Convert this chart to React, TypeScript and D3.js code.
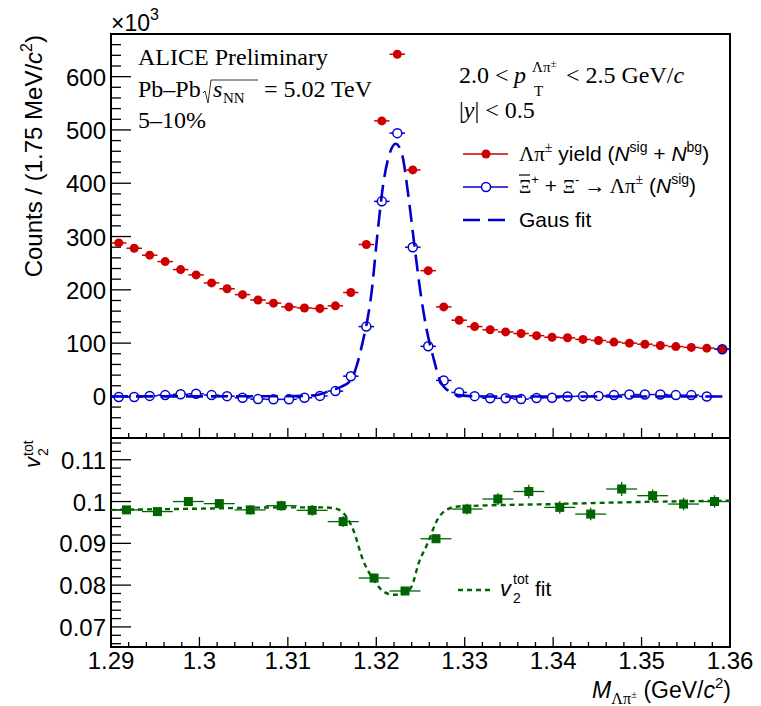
import React from "react";
import * as d3 from "d3";

// ---- data ----
// invariant mass bin centres, 1.75 MeV/c^2 bins
const massCenters = [
  1.290875, 1.292625, 1.294375, 1.296125, 1.297875, 1.299625, 1.301375, 1.303125,
  1.304875, 1.306625, 1.308375, 1.310125, 1.311875, 1.313625, 1.315375, 1.317125,
  1.318875, 1.320625, 1.322375, 1.324125, 1.325875, 1.327625, 1.329375, 1.331125,
  1.332875, 1.334625, 1.336375, 1.338125, 1.339875, 1.341625, 1.343375, 1.345125,
  1.346875, 1.348625, 1.350375, 1.352125, 1.353875, 1.355625, 1.357375, 1.359125,
];
const massHalfBin = 0.000875;

// Λπ± yield (Nsig + Nbg), in units of 10^3
const yieldCounts = [
  288, 278, 265, 253, 238, 228, 213, 202, 191, 181, 175, 168, 166, 165, 170, 195,
  285, 517, 642, 425, 236, 168, 143, 131, 125, 121, 118, 114, 111, 110, 107, 105,
  102, 100, 98, 95.5, 93.5, 92, 90.5, 88.5,
];

// Ξ -> Λπ± signal (Nsig), in units of 10^3
const signalCounts = [
  -1, -1, 1, 2.5, 4, 5, 2.5, 0.5, -2.5, -5, -5.5, -5.5, -2.5, 1, 10, 38,
  131, 366, 494, 280, 94, 30, 7.5, 0.5, -3.5, -3.5, -5, -3, -2.5, 0, 0.5, 1,
  2.5, 3.5, 3.5, 3.5, 2.5, 2.5, 0, 88.5,
];
const signalErr = [
  3, 3, 3, 3, 3, 3, 3, 3, 3, 3, 3, 3, 3, 3, 4, 5,
  8, 9, 9, 8, 6, 5, 4, 3, 3, 3, 3, 3, 3, 3, 3, 3,
  3, 3, 3, 3, 3, 3, 3, 0,
];

// Gaus fit curve, sampled off the figure
const gausFitX = [
  1.29, 1.31, 1.313, 1.3147, 1.316, 1.3171, 1.318, 1.3185, 1.3189, 1.3195, 1.3201,
  1.3208, 1.3215, 1.3222, 1.3229, 1.3236, 1.3243, 1.325, 1.3257, 1.3265, 1.3272,
  1.3283, 1.3295, 1.332, 1.36,
];
const gausFitY = [
  0, 0.5, 2, 10, 18, 30, 70, 105, 135, 200, 300,
  400, 455, 474, 455, 380, 285, 195, 125, 70, 30,
  9, 2, 0, 0,
];

// v2tot in 3.5 MeV/c^2 bins
const v2Centers = [
  1.29175, 1.29525, 1.29875, 1.30225, 1.30575, 1.30925, 1.31275, 1.31625, 1.31975, 1.32325,
  1.32675, 1.33025, 1.33375, 1.33725, 1.34075, 1.34425, 1.34775, 1.35125, 1.35475, 1.35825,
];
const v2HalfBin = 0.00175;
const v2Values = [
  0.098, 0.0976, 0.1, 0.0995, 0.098, 0.099, 0.0979, 0.0952, 0.0817, 0.0786,
  0.0911, 0.0982, 0.1006, 0.1024, 0.0986, 0.097, 0.103, 0.1014, 0.0994, 0.1,
];
const v2Err = [
  0.0009, 0.0009, 0.0011, 0.0011, 0.0011, 0.0012, 0.0013, 0.0013, 0.001, 0.0008,
  0.001, 0.0013, 0.0014, 0.0016, 0.0015, 0.0015, 0.0017, 0.0015, 0.0015, 0.0015,
];

// v2tot fit curve, sampled off the figure
const v2FitX = [
  1.29, 1.3, 1.31, 1.314, 1.3152, 1.3163, 1.3174, 1.3185, 1.3197, 1.3208, 1.3219,
  1.3231, 1.324, 1.3248, 1.3258, 1.3269, 1.3281, 1.3292, 1.34, 1.35, 1.36,
];
const v2FitY = [
  0.098, 0.0983, 0.0986, 0.0986, 0.0984, 0.0972, 0.0932, 0.086, 0.0813, 0.0785, 0.0777,
  0.0779, 0.0797, 0.0853, 0.09, 0.0956, 0.0982, 0.0988, 0.0994, 0.0999, 0.1002,
];

const massTicks = [1.29, 1.3, 1.31, 1.32, 1.33, 1.34, 1.35, 1.36];
const massTickLabels = ["1.29", "1.3", "1.31", "1.32", "1.33", "1.34", "1.35", "1.36"];
const countTicks = [0, 100, 200, 300, 400, 500, 600];
const v2Ticks = [0.07, 0.08, 0.09, 0.1, 0.11];
const v2TickLabels = ["0.07", "0.08", "0.09", "0.1", "0.11"];

// ---- layout ----
const W = 761;
const H = 706;
const left = 111;
const right = 730;
const top1 = 34;
const bot1 = 438;
const bot2 = 647;

const SANS = "'Liberation Sans', Arial, Helvetica, sans-serif";
const SERIF = "'Liberation Serif', 'Times New Roman', serif";
const RED = "#cc0000";
const BLUE = "#0000cc";
const GREEN = "#006400";

export default function App() {
  const x = d3.scaleLinear().domain([1.29, 1.36]).range([left, right]);
  const yTop = d3.scaleLinear().domain([-78, 680]).range([bot1, top1]);
  const yBot = d3.scaleLinear().domain([0.0652, 0.1152]).range([bot2, bot1]);

  const minorMass = d3.range(1.29, 1.3601, 0.002);
  const minorCounts = d3.range(-60, 681, 20);
  const minorV2 = d3.range(0.066, 0.1151, 0.002);

  const gausLine = d3.line<number>()
    .x((d, i) => x(gausFitX[i]))
    .y(d => yTop(d))
    .curve(d3.curveMonotoneX);
  const v2Line = d3.line<number>()
    .x((d, i) => x(v2FitX[i]))
    .y(d => yBot(d))
    .curve(d3.curveMonotoneX);

  const r = 4.5;
  const sq = 9;

  return (
    <svg width={W} height={H} style={{position: "absolute", left: 0, top: 0, background: "#fff"}}>
      <rect width={W} height={H} fill="#fff"/>

      {/* ---- axes ---- */}
      <g stroke="#000" strokeWidth={1.3}>
        {minorCounts.map(v => (
          <line key={"mc" + v} x1={left} x2={left + (v % 100 === 0 ? 20 : 10)} y1={yTop(v)} y2={yTop(v)}/>
        ))}
        {minorMass.map((v, i) => (
          <line key={"mx1" + i} x1={x(v)} x2={x(v)} y1={bot1} y2={bot1 - (i % 5 === 0 ? 10 : 5)}/>
        ))}
        {minorV2.map((v, i) => (
          <line key={"mv" + i} x1={left} x2={left + (i % 5 === 2 ? 20 : 10)} y1={yBot(v)} y2={yBot(v)}/>
        ))}
        {minorMass.map((v, i) => (
          <line key={"mx2" + i} x1={x(v)} x2={x(v)} y1={bot2} y2={bot2 - (i % 5 === 0 ? 10 : 5)}/>
        ))}
      </g>
      <rect x={left} y={top1} width={right - left} height={bot1 - top1} fill="none" stroke="#000" strokeWidth={2}/>
      <rect x={left} y={bot1} width={right - left} height={bot2 - bot1} fill="none" stroke="#000" strokeWidth={2}/>

      <g fontFamily={SANS} fontSize={24} textAnchor="end">
        {countTicks.map(v => (
          <text key={"ct" + v} x={106} y={yTop(v) + 9}>{v}</text>
        ))}
        {v2Ticks.map((v, i) => (
          <text key={"vt" + v} x={106} y={yBot(v) + 9}>{v2TickLabels[i]}</text>
        ))}
      </g>
      <g fontFamily={SANS} fontSize={24} textAnchor="middle">
        {massTicks.map((v, i) => (
          <text key={"xt" + v} x={x(v)} y={669}>{massTickLabels[i]}</text>
        ))}
      </g>

      {/* x10^3 */}
      <text x={111} y={31} fontFamily={SANS} fontSize={23}>
        ×10<tspan fontSize={16} dy={-11}>3</tspan>
      </text>

      {/* y titles */}
      <text transform="translate(42,35) rotate(-90)" textAnchor="end" fontFamily={SANS} fontSize={24}>
        Counts / (1.75 MeV/<tspan fontStyle="italic">c</tspan>
        <tspan fontSize={16} dy={-10}>2</tspan>
        <tspan dy={10}>)</tspan>
      </text>
      <g transform="translate(40,470) rotate(-90)" fontFamily={SANS}>
        <text x={2} y={0} fontSize={22} fontStyle="italic">v</text>
        <text x={14} y={8} fontSize={14}>2</text>
        <text x={14} y={-7} fontSize={14}>tot</text>
      </g>

      {/* x title */}
      <text x={731} y={698} textAnchor="end" fontFamily={SANS} fontSize={23}>
        <tspan fontStyle="italic">M</tspan>
        <tspan fontFamily={SERIF} fontSize={16} dy={6}>Λπ</tspan>
        <tspan fontFamily={SERIF} fontSize={11} dy={-6}>±</tspan>
        <tspan dy={0}>{" (GeV/"}</tspan>
        <tspan fontStyle="italic">c</tspan>
        <tspan fontSize={15} dy={-10}>2</tspan>
        <tspan dy={10}>)</tspan>
      </text>

      {/* ---- top panel data ---- */}
      <path d={gausLine(gausFitY) || ""} fill="none" stroke={BLUE} strokeWidth={2.6} strokeDasharray="17 8"/>

      <g stroke={RED} strokeWidth={1.5}>
        {massCenters.map((m, i) => (
          <line key={"rb" + i} x1={x(m - massHalfBin)} x2={x(m + massHalfBin)} y1={yTop(yieldCounts[i])} y2={yTop(yieldCounts[i])}/>
        ))}
      </g>
      <g fill={RED}>
        {massCenters.map((m, i) => (
          <circle key={"rm" + i} cx={x(m)} cy={yTop(yieldCounts[i])} r={r}/>
        ))}
      </g>

      <g stroke={BLUE} strokeWidth={1.5} fill="none">
        {massCenters.map((m, i) => {
          const cx = x(m);
          const cy = yTop(signalCounts[i]);
          const ey = yTop(signalCounts[i] - signalErr[i]) - cy;
          return (
            <g key={"bs" + i}>
              <line x1={x(m - massHalfBin)} x2={cx - r} y1={cy} y2={cy}/>
              <line x1={cx + r} x2={x(m + massHalfBin)} y1={cy} y2={cy}/>
              {ey > r && <line x1={cx} x2={cx} y1={cy - ey} y2={cy - r}/>}
              {ey > r && <line x1={cx} x2={cx} y1={cy + r} y2={cy + ey}/>}
              <circle cx={cx} cy={cy} r={r}/>
            </g>
          );
        })}
      </g>

      {/* ---- bottom panel data ---- */}
      <path d={v2Line(v2FitY) || ""} fill="none" stroke={GREEN} strokeWidth={2.4} strokeDasharray="5 4"/>
      <g stroke={GREEN} strokeWidth={1.3}>
        {v2Centers.map((m, i) => (
          <g key={"ge" + i}>
            <line x1={x(m - v2HalfBin)} x2={x(m + v2HalfBin)} y1={yBot(v2Values[i])} y2={yBot(v2Values[i])}/>
            <line x1={x(m)} x2={x(m)} y1={yBot(v2Values[i] - v2Err[i])} y2={yBot(v2Values[i] + v2Err[i])}/>
          </g>
        ))}
      </g>
      <g fill={GREEN}>
        {v2Centers.map((m, i) => (
          <rect key={"gm" + i} x={x(m) - sq / 2} y={yBot(v2Values[i]) - sq / 2} width={sq} height={sq}/>
        ))}
      </g>

      {/* ---- labels ---- */}
      <g fontFamily={SERIF} fontSize={24}>
        <text x={138} y={65}>ALICE Preliminary</text>
        <text x={138} y={97}>Pb–Pb</text>
        <path d="M203,93 L205,91 L208,103 L211,80 L258,80" fill="none" stroke="#000" strokeWidth={0.8}/>
        <text x={213} y={97} fontStyle="italic">s</text>
        <text x={223} y={103} fontSize={15}>NN</text>
        <text x={264} y={97}>= 5.02 TeV</text>
        <text x={138} y={128}>5–10%</text>

        <text x={459} y={83}>2.0 &lt;</text>
        <text x={514} y={83} fontStyle="italic">p</text>
        <text x={532} y={72} fontSize={15}>Λπ<tspan fontSize={11} dy={-5}>±</tspan></text>
        <text x={534} y={96} fontSize={15}>T</text>
        <text x={566} y={83}>&lt; 2.5 GeV/<tspan fontStyle="italic">c</tspan></text>
        <text x={459} y={118}>|<tspan fontStyle="italic">y</tspan>| &lt; 0.5</text>
      </g>

      {/* legend */}
      <line x1={463} x2={508} y1={154} y2={154} stroke={RED} strokeWidth={1.5}/>
      <circle cx={486} cy={154} r={r} fill={RED}/>
      <line x1={463} x2={481} y1={187} y2={187} stroke={BLUE} strokeWidth={1.5}/>
      <line x1={491} x2={508} y1={187} y2={187} stroke={BLUE} strokeWidth={1.5}/>
      <circle cx={486} cy={187} r={r} fill="none" stroke={BLUE} strokeWidth={1.5}/>
      <line x1={463} x2={509} y1={220} y2={220} stroke={BLUE} strokeWidth={2.6} strokeDasharray="17 8"/>

      <g fontFamily={SANS} fontSize={21}>
        <text x={519} y={161}>
          <tspan fontFamily={SERIF}>Λπ</tspan>
          <tspan fontFamily={SERIF} fontSize={14} dy={-9}>±</tspan>
          <tspan dy={9}>{" yield ("}</tspan>
          <tspan fontStyle="italic">N</tspan>
          <tspan fontSize={14} dy={-9}>sig</tspan>
          <tspan dy={9}>{" + "}</tspan>
          <tspan fontStyle="italic">N</tspan>
          <tspan fontSize={14} dy={-9}>bg</tspan>
          <tspan dy={9}>)</tspan>
        </text>
        <line x1={519} x2={530} y1={175} y2={175} stroke="#000" strokeWidth={1.2}/>
        <text x={519} y={193}>
          <tspan fontFamily={SERIF} fontSize={19}>Ξ</tspan>
          <tspan fontSize={13} dy={-9}>+</tspan>
          <tspan dy={9}>{" + "}</tspan>
          <tspan fontFamily={SERIF} fontSize={19}>Ξ</tspan>
          <tspan fontSize={13} dy={-9}>-</tspan>
          <tspan dy={9} fontFamily={SERIF}>{" → Λπ"}</tspan>
          <tspan fontFamily={SERIF} fontSize={14} dy={-9}>±</tspan>
          <tspan dy={9}>{" ("}</tspan>
          <tspan fontStyle="italic">N</tspan>
          <tspan fontSize={14} dy={-9}>sig</tspan>
          <tspan dy={9}>)</tspan>
        </text>
        <text x={519} y={227}>Gaus fit</text>
      </g>

      <line x1={458} x2={490} y1={590} y2={590} stroke={GREEN} strokeWidth={2.4} strokeDasharray="5 4"/>
      <g fontFamily={SANS}>
        <text x={500} y={596} fontSize={22} fontStyle="italic">v</text>
        <text x={513} y={603} fontSize={14}>2</text>
        <text x={513} y={584} fontSize={14}>tot</text>
        <text x={535} y={596} fontSize={21}>fit</text>
      </g>
    </svg>
  );
}
